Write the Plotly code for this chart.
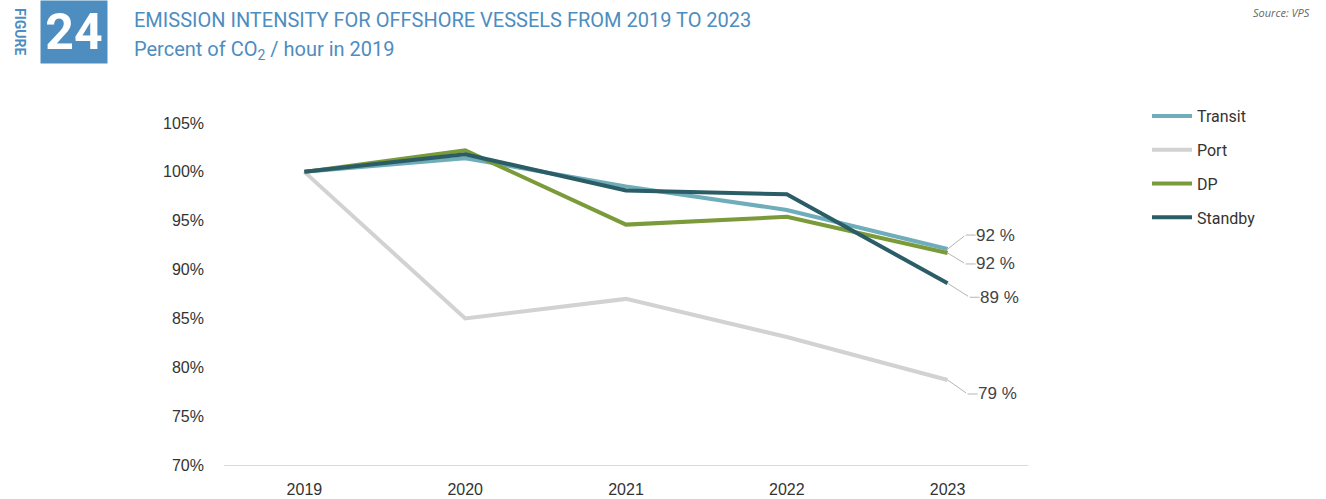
import plotly.graph_objects as go

# Emission intensity, indexed to 2019 = 100 %
years = ["2019", "2020", "2021", "2022", "2023"]
transit = [100.0, 101.4, 98.5, 96.1, 92.1]
port = [100.0, 85.0, 87.0, 83.1, 78.7]
dp = [100.0, 102.2, 94.6, 95.4, 91.7]
standby = [100.0, 101.8, 98.1, 97.7, 88.6]

series_names = ["Transit", "Port", "DP", "Standby"]
series_values = [transit, port, dp, standby]
series_colors = ["#6fadbb", "#d2d2d2", "#7b9a3a", "#2b5d66"]

y_ticks = [70, 75, 80, 85, 90, 95, 100, 105]
y_tick_labels = [f"{v}%" for v in y_ticks]

# leader-line elbow offsets (pixels) for the end labels
elbow_dx = [18, 20, 18, 22]
elbow_dy = [-14, 14, 11, 14]

W, H = 1326, 499
L, R, T, B = 224, 298, 123, 34
pw, ph = W - L - R, H - T - B


def px(x):
    return (x - L) / pw


def py(y):
    return (H - B - y) / ph


fig = go.Figure()
for name, vals, col in zip(series_names, series_values, series_colors):
    fig.add_trace(go.Scatter(
        x=years, y=vals, name=name, mode="lines", legendgroup=name,
        line=dict(color=col, width=4),
    ))

last = len(years) - 1
annotations = []
for vals, dx, dy in zip(series_values, elbow_dx, elbow_dy):
    end = vals[-1]
    annotations.append(dict(
        x=last, y=end, xref="x", yref="y", text="", showarrow=True,
        arrowhead=0, arrowwidth=1, arrowcolor="#b5b5b5", ax=dx, ay=dy,
        standoff=0, startstandoff=0,
    ))
    annotations.append(dict(
        x=last, y=end, xref="x", yref="y", xshift=dx, yshift=-dy,
        text=f"{round(end)} %", showarrow=True, arrowhead=0, arrowwidth=1,
        arrowcolor="#b5b5b5", ax=30, ay=0, standoff=0, borderpad=0,
        font=dict(family="Liberation Sans, Arial", size=17, color="#444444"),
    ))

blue = "#4d8dbf"
annotations += [
    dict(x=px(40), y=py(0), xref="paper", yref="paper", xanchor="left",
         yanchor="top", width=66, height=62, borderpad=0, bgcolor=blue,
         text="<b>24</b>", showarrow=False, valign="middle",
         font=dict(family="Roboto", size=50, color="white")),
    dict(x=px(20), y=py(32), xref="paper", yref="paper", text="<b>FIGURE</b>",
         textangle=90, showarrow=False, xanchor="center", yanchor="middle",
         font=dict(family="Roboto", size=14, color=blue)),
    dict(x=px(132), y=py(20), xref="paper", yref="paper", xanchor="left",
         yanchor="middle", showarrow=False,
         text="EMISSION INTENSITY FOR OFFSHORE VESSELS FROM 2019 TO 2023",
         font=dict(family="Roboto", size=20, color=blue)),
    dict(x=px(132), y=py(50), xref="paper", yref="paper", xanchor="left",
         yanchor="middle", showarrow=False,
         text="Percent of CO<sub>2</sub> / hour in 2019",
         font=dict(family="Roboto", size=20, color=blue)),
    dict(x=px(1312), y=py(13), xref="paper", yref="paper", xanchor="right",
         yanchor="middle", showarrow=False, text="<i>Source: VPS</i>",
         font=dict(family="Open Sans", size=11, color="#666666")),
]

fig.update_layout(
    width=W, height=H,
    margin=dict(l=L, r=R, t=T, b=B, autoexpand=False),
    paper_bgcolor="white", plot_bgcolor="white",
    showlegend=True,
    legend=dict(x=px(1147), y=py(99), xanchor="left", yanchor="top",
                xref="paper", yref="paper", tracegroupgap=10, itemwidth=40,
                font=dict(family="Roboto", size=16, color="#333333"),
                bgcolor="rgba(0,0,0,0)"),
    annotations=annotations,
    xaxis=dict(type="category", range=[-0.5, last + 0.5], showgrid=False,
               showline=True, linecolor="#d9d9d9", linewidth=1, ticks="",
               zeroline=False, ticklabelstandoff=10, automargin=False,
               tickfont=dict(family="Liberation Sans, Arial", size=16,
                             color="#333333")),
    yaxis=dict(range=[70, 105], tickvals=y_ticks, ticktext=y_tick_labels,
               showgrid=False, zeroline=False, showline=False, ticks="",
               ticklabelstandoff=19, automargin=False,
               tickfont=dict(family="Liberation Sans, Arial", size=16,
                             color="#333333")),
)

fig.write_html("out.html")
